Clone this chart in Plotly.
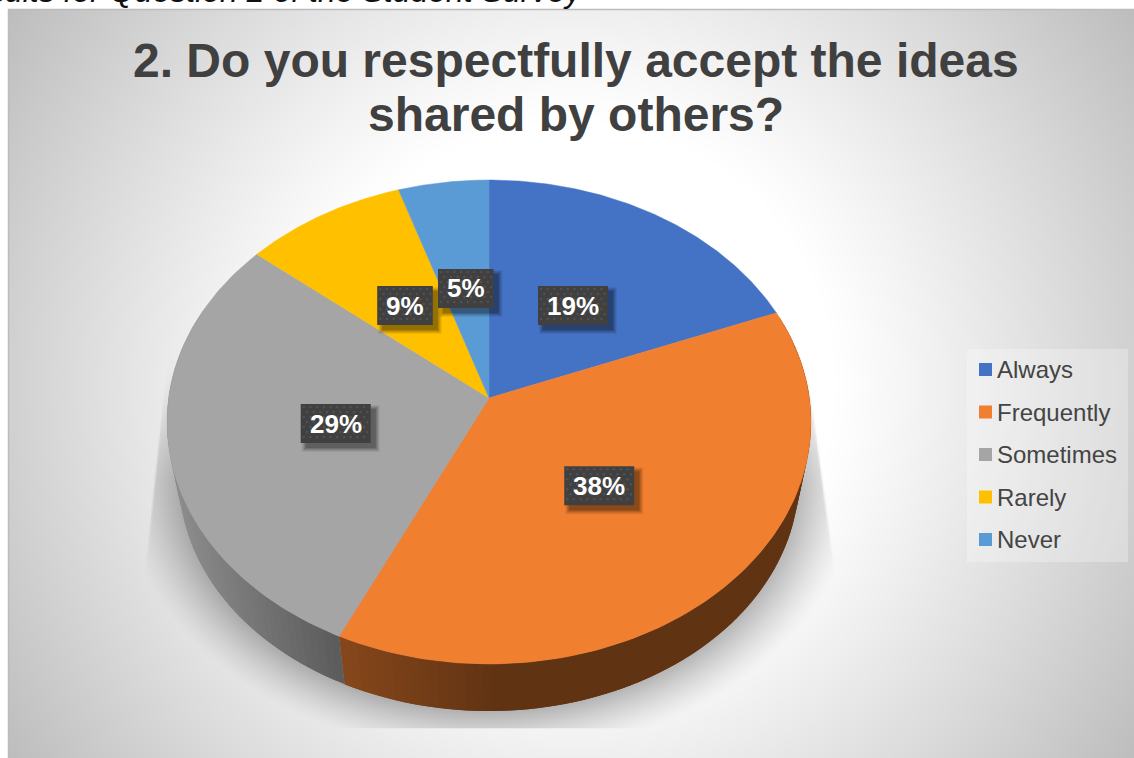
import numpy as np
import plotly.graph_objects as go

# Survey results
categories = ["Always", "Frequently", "Sometimes", "Rarely", "Never"]
percentages = [19, 38, 29, 9, 5]
slice_colors = ["#4472C4", "#F07F30", "#A5A5A5", "#FFC000", "#5B9BD5"]

title_lines = ["2. Do you respectfully accept the ideas", "shared by others?"]
caption = "Results for Question 2 of the Student Survey"

WIDTH, HEIGHT = 1134, 758
INK = "#404040"
FONT = "Liberation Sans"

# Perspective disc: the far edge is foreshortened, the near edge enlarged
CX, APEX_Y, RX, RY, PERSP = 489.0, 398.0, 320.4, 239.6, 0.0992
# The underside is a slightly smaller copy of the top, pushed downwards
BASE_APEX_Y, BASE_SCALE = 455.0, 0.9627
LABEL_RADIUS = 0.485


def project(theta_deg, r=1.0):
    """Disc position (clockwise degrees from 12 o'clock) to page coordinates."""
    t = np.radians(theta_deg)
    u, v = r * np.sin(t), r * np.cos(t)
    w = 1 + PERSP * v
    return CX + RX * u / w, APEX_Y - RY * v / w


def project_base(theta_deg):
    x, y = project(theta_deg)
    return CX + BASE_SCALE * (x - CX), BASE_APEX_Y + BASE_SCALE * (y - APEX_Y)


def smooth(e0, e1, a):
    t = np.clip((a - e0) / (e1 - e0), 0, 1)
    return t * t * (3 - 2 * t)


def backdrop():
    """Radial grey backdrop with the soft shadow cast beneath the disc."""
    xs = np.arange(9, WIDTH + 3, 1.5)
    ys = np.arange(10, HEIGHT + 3, 1.5)
    gx, gy = np.meshgrid(xs, ys)
    dist = np.hypot(gx - 571, gy - 384)
    shade = 255 - 66 * np.clip((dist - 260) / (676 - 260), 0, 1) ** 1.1

    q = np.hypot((gx - 489) / 310, (gy - 478) / 233)
    outside = np.clip((q - 1) * 265, 0, None)
    falloff = np.clip(1 - outside / 50, 0, 1) ** 1.3
    fade_in = smooth(340, 490, gy)
    left_edge = 168 + (gy - 340) * (145 - 168) / (560 - 340)
    right_edge = 812 + (gy - 400) * (835 - 812) / (570 - 400)
    inside = smooth(0, 2.5, gx - left_edge) * smooth(0, 2.5, right_edge - gx) * (gy < 728)
    shade = shade * (1 - 0.27 * falloff * fade_in * inside)
    return xs, ys, shade


def wall_shade(theta):
    """Side wall gets darker towards the seam between the two front slices."""
    x = project(theta)[0]
    seam = project(205.2)[0]
    if x < seam:
        return float(np.interp(x, [175, seam], [0.85, 0.55]))
    return float(np.interp(x, [seam, 500], [0.56, 0.40]))


def scaled(hex_color, k):
    rgb = [int(hex_color[i:i + 2], 16) for i in (1, 3, 5)]
    return "rgb({},{},{})".format(*[round(c * k) for c in rgb])


fig = go.Figure()

xs, ys, z = backdrop()
fig.add_trace(go.Heatmap(
    x=xs, y=ys, z=z, zmin=0, zmax=255, zsmooth="best", showscale=False,
    colorscale=[[0, "#000000"], [1, "#ffffff"]], hoverinfo="skip",
))

edges = np.concatenate([[0], np.cumsum(percentages)]) / sum(percentages) * 360

# Side walls: narrow overlapping quads, so the shading runs smoothly along the rim
STEP = 1.5
for i, color in enumerate(slice_colors):
    a0, a1 = edges[i], edges[i + 1]
    for t0 in np.arange(a0, a1, STEP):
        t1 = min(t0 + 2 * STEP, a1)
        mid = t0 + STEP / 2
        if np.cos(np.radians(mid)) > 0.35:
            continue
        tx0, ty0 = project(t0)
        tx1, ty1 = project(t1)
        bx1, by1 = project_base(t1)
        bx0, by0 = project_base(t0)
        c = scaled(color, wall_shade(mid))
        fig.add_trace(go.Scatter(
            x=[tx0, tx1, bx1, bx0, tx0], y=[ty0, ty1, by1, by0, ty0],
            mode="lines", fill="toself", fillcolor=c,
            line=dict(width=0), hoverinfo="skip",
        ))

# Top faces of the slices
for i, color in enumerate(slice_colors):
    theta = np.linspace(edges[i], edges[i + 1], 120)
    ex, ey = project(theta)
    px, py = project(0.0, 0.0)
    fig.add_trace(go.Scatter(
        x=np.r_[px, ex, px], y=np.r_[py, ey, py], name=categories[i],
        mode="lines", fill="toself", fillcolor=color,
        line=dict(color=color, width=0.5), hoverinfo="skip",
    ))

# Percentage tags: soft shadow, dark plate, dotted texture, then the text
annotations = []
for i, pct in enumerate(percentages):
    mid = (edges[i] + edges[i + 1]) / 2
    cx, cy = project(mid, LABEL_RADIUS)
    label = f"{pct}%"
    half_w = (18 + 26 * (0.556 * len(str(pct)) + 0.889)) / 2
    half_h = 19.5
    for grow, alpha in ((4.0, 0.06), (3.0, 0.08), (2.0, 0.10), (1.0, 0.12), (0.0, 0.14)):
        x0, x1 = cx - half_w + 5 - grow, cx + half_w + 5 + grow
        y0, y1 = cy - half_h + 5 - grow, cy + half_h + 5 + grow
        fig.add_trace(go.Scatter(
            x=[x0, x1, x1, x0, x0], y=[y0, y0, y1, y1, y0], mode="lines",
            fill="toself", fillcolor=f"rgba(0,0,0,{alpha})",
            line=dict(width=0), hoverinfo="skip",
        ))
    x0, x1, y0, y1 = cx - half_w, cx + half_w, cy - half_h, cy + half_h
    fig.add_trace(go.Scatter(
        x=[x0, x1, x1, x0, x0], y=[y0, y0, y1, y1, y0], mode="lines",
        fill="toself", fillcolor="#404040", line=dict(width=0), hoverinfo="skip",
    ))
    dots_x, dots_y = [], []
    for row, dy in enumerate(np.arange(y0 + 3, y1 - 1, 5.0)):
        for dx in np.arange(x0 + 3 + (row % 2) * 3.3, x1 - 1, 6.7):
            dots_x.append(dx)
            dots_y.append(dy)
    fig.add_trace(go.Scatter(
        x=dots_x, y=dots_y, mode="markers", hoverinfo="skip",
        marker=dict(size=2.6, color="rgba(120,120,120,0.30)", line=dict(width=0)),
    ))
    annotations.append(dict(
        x=cx, y=cy, xref="x", yref="y", text=f"<b>{label}</b>", showarrow=False,
        font=dict(family=FONT, size=26, color="#ffffff"), borderpad=0,
    ))

# Legend panel, swatches and names
fig.add_trace(go.Scatter(
    x=[967, 1128, 1128, 967, 967], y=[349, 349, 562, 562, 349], mode="lines",
    fill="toself", fillcolor="rgba(255,255,255,0.28)", line=dict(width=0),
    hoverinfo="skip",
))
row_y = [369.5 + 42.5 * i for i in range(len(categories))]
fig.add_trace(go.Scatter(
    x=[985.5] * len(categories), y=row_y, mode="markers", hoverinfo="skip",
    marker=dict(symbol="square", size=13, color=slice_colors, line=dict(width=0)),
))
for name, y in zip(categories, row_y):
    annotations.append(dict(
        x=996, y=y, xref="x", yref="y", xanchor="left", text=name, showarrow=False,
        font=dict(family=FONT, size=24, color="#444444"), borderpad=0,
    ))

# Chart title
for line, y in zip(title_lines, (60, 114)):
    annotations.append(dict(
        x=576, y=y, xref="x", yref="y", text=f"<b>{line}</b>", showarrow=False,
        font=dict(family=FONT, size=48, color=INK), borderpad=0,
    ))

# Document caption sitting just above the chart frame
annotations.append(dict(
    x=584, y=0, yshift=9, xref="x", yref="y", xanchor="right", text=f"<i>{caption}</i>",
    showarrow=False, font=dict(family=FONT, size=32, color="#111111"), borderpad=0,
))

shapes = [
    dict(type="line", xref="x", yref="y", x0=8, x1=WIDTH, y0=9.5, y1=9.5,
         line=dict(color="#bcbcbc", width=1.5), layer="above"),
    dict(type="line", xref="x", yref="y", x0=8.5, x1=8.5, y0=9, y1=HEIGHT,
         line=dict(color="#bcbcbc", width=1.5), layer="above"),
]

fig.update_layout(
    width=WIDTH, height=HEIGHT, margin=dict(l=0, r=0, t=0, b=0),
    paper_bgcolor="#ffffff", plot_bgcolor="#ffffff", showlegend=False,
    xaxis=dict(range=[0, WIDTH], visible=False, fixedrange=True),
    yaxis=dict(range=[HEIGHT, 0], visible=False, fixedrange=True),
    annotations=annotations, shapes=shapes,
)

fig.write_html("out.html", config={"displayModeBar": False})
